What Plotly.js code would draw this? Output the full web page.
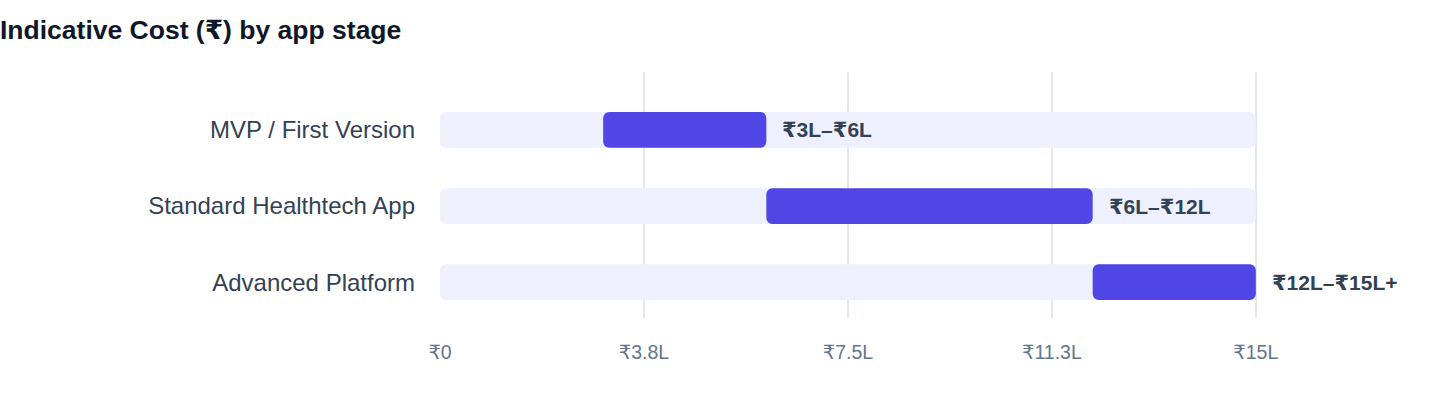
<!DOCTYPE html>
<html>
<head>
<meta charset="utf-8">
<script src="https://cdn.plot.ly/plotly-3.0.1.min.js"></script>
<style>
  html, body { margin: 0; padding: 0; background: #fff; }
  #chart { width: 1440px; height: 408px; }
</style>
</head>
<body>
<div id="chart"></div>
<script>
// app stages, top to bottom
var stages = ["MVP / First Version", "Standard Healthtech App", "Advanced Platform"];
var lowCost = [3, 6, 12];     // ₹ lakh
var highCost = [6, 12, 15];   // ₹ lakh
var rangeLabels = ["₹3L–₹6L", "₹6L–₹12L", "₹12L–₹15L+"];
var trackMax = 15;

var tickVals = [0, 3.75, 7.5, 11.25, 15];
var tickText = ["₹0", "₹3.8L", "₹7.5L", "₹11.3L", "₹15L"];

var font = "Liberation Sans, Arial, DejaVu Sans, sans-serif";

var track = {
    type: "bar",
    orientation: "h",
    y: stages,
    x: stages.map(() => trackMax),
    base: 0,
    width: 0.47,
    marker: { color: "#EEF1FD", cornerradius: 6 },
    hoverinfo: "skip",
    showlegend: false
};

var range = {
    type: "bar",
    orientation: "h",
    y: stages,
    base: lowCost,
    x: highCost.map((h, i) => h - lowCost[i]),
    width: 0.47,
    marker: { color: "#4F46E5", cornerradius: 6 },
    hoverinfo: "skip",
    showlegend: false
};

//labels next to each bar
var notes = stages.map((s, i) => ({
    x: highCost[i],
    y: s,
    text: "<b>" + rangeLabels[i] + "</b>",
    xanchor: "left",
    xshift: 14,
    showarrow: false,
    font: { size: 21, color: "#334155", family: font }
}));

var layout = {
    width: 1440,
    height: 408,
    barmode: "overlay",
    paper_bgcolor: "#fff",
    plot_bgcolor: "#fff",
    margin: { t: 72, b: 90, l: 440, r: 21 },
    title: {
        text: "<b>Indicative Cost (₹) by app stage</b>",
        x: 0, xref: "container", xanchor: "left",
        y: 1, yref: "container", yanchor: "top", pad: { t: 20 },
        font: { size: 26.5, color: "#0F172A", family: font }
    },
    xaxis: {
        range: [0, 18],
        tickvals: tickVals,
        ticktext: tickText,
        showgrid: true,
        gridcolor: "#E2E8F0",
        gridwidth: 1.5,
        zeroline: false,
        showline: false,
        ticks: "",
        ticklabelstandoff: 20,
        tickfont: { size: 19.5, color: "#64748B", family: font },
        fixedrange: true
    },
    yaxis: {
        type: "category",
        categoryorder: "array",
        categoryarray: stages.slice().reverse(),
        range: [-0.47, 2.76],
        showgrid: false,
        zeroline: false,
        showline: false,
        ticks: "",
        ticklabelstandoff: 24,
        tickfont: { size: 24, color: "#334155", family: font },
        fixedrange: true
    },
    annotations: notes,
    font: { family: font }
};

Plotly.newPlot("chart", [track, range], layout, { displayModeBar: false, staticPlot: true });
</script>
</body>
</html>
